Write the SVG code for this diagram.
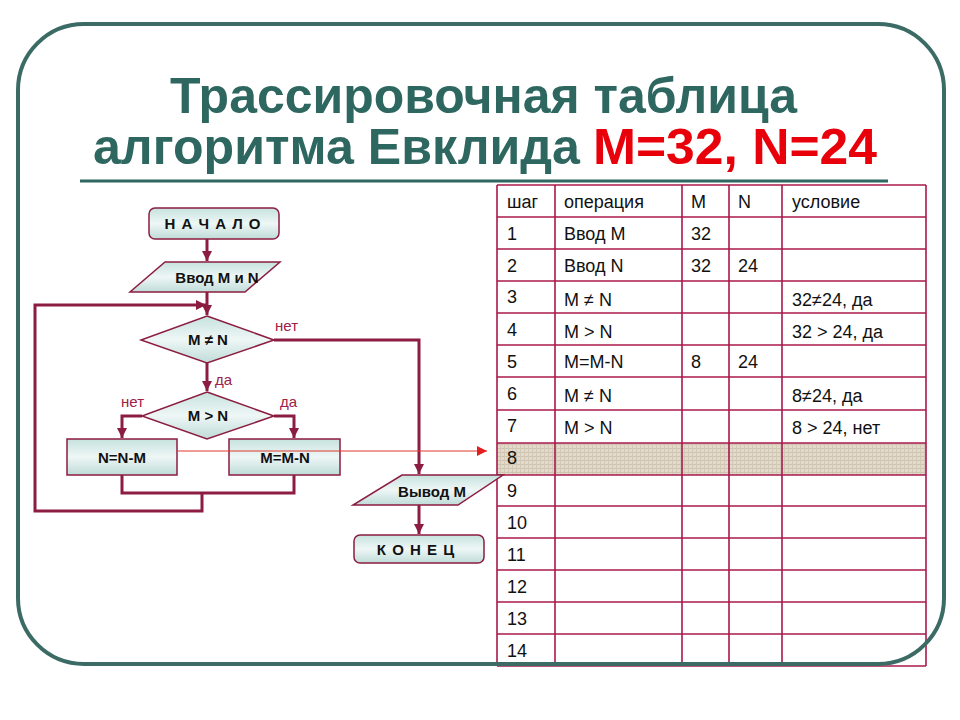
<svg xmlns="http://www.w3.org/2000/svg" width="960" height="720" viewBox="0 0 960 720">
<style>
.title{font-family:"Liberation Sans",Arial,sans-serif;font-weight:bold;font-size:50px;fill:#2e6660}
.red{fill:#e8000b}
.cell{font-family:"Liberation Sans",Arial,sans-serif;font-size:18px;fill:#111}
.nt{font-family:"Liberation Sans",Arial,sans-serif;font-weight:bold;font-size:15px;fill:#111;text-anchor:middle}
.lbl{font-family:"Liberation Sans",Arial,sans-serif;font-size:15px;fill:#9e2048}
.shape{fill:url(#g);stroke:#8c1c40;stroke-width:1.5}
.conn{fill:none;stroke:#8c1c40;stroke-width:3}
.grid{stroke:#a8184c;stroke-width:1.6}
</style>
<defs>
<linearGradient id="g" x1="0" y1="0" x2="0" y2="1">
<stop offset="0" stop-color="#c6e2de"/>
<stop offset="0.5" stop-color="#eef7f6"/>
<stop offset="1" stop-color="#bfdcd8"/>
</linearGradient>
<pattern id="tex" width="4" height="4" patternUnits="userSpaceOnUse">
<rect width="4" height="4" fill="#e2dacb"/>
<rect width="4" height="1" fill="#cfc4b0"/>
<rect width="1" height="4" fill="#d4c9b6"/>
</pattern>
<marker id="ah" viewBox="0 0 10 10" refX="10" refY="5" markerWidth="3.6" markerHeight="3.4" orient="auto" markerUnits="strokeWidth">
<path d="M0,0 L10,5 L0,10 z" fill="#8c1c40"/>
</marker>
<marker id="rh" viewBox="0 0 10 10" refX="10" refY="5" markerWidth="12" markerHeight="10" orient="auto" markerUnits="userSpaceOnUse">
<path d="M0,0 L10,5 L0,10 z" fill="#e02020"/>
</marker>
</defs>
<rect width="960" height="720" fill="#fff"/>

<g id="title">
<text class="title" x="170" y="113" textLength="627" lengthAdjust="spacingAndGlyphs">Трассировочная таблица</text>
<text class="title" x="93" y="164" textLength="487" lengthAdjust="spacingAndGlyphs">алгоритма Евклида</text>
<text class="title red" x="593" y="164" textLength="284" lengthAdjust="spacingAndGlyphs">M=32, N=24</text>
<line x1="80" y1="181" x2="888" y2="181" stroke="#2e6660" stroke-width="3"/>
</g>

<g id="table">
<rect x="497" y="443" width="429" height="32" fill="url(#tex)"/>
<g class="grid">
<line x1="497" y1="185" x2="926" y2="185"/>
<line x1="497" y1="217" x2="926" y2="217"/>
<line x1="497" y1="249" x2="926" y2="249"/>
<line x1="497" y1="281" x2="926" y2="281"/>
<line x1="497" y1="313" x2="926" y2="313"/>
<line x1="497" y1="345" x2="926" y2="345"/>
<line x1="497" y1="377" x2="926" y2="377"/>
<line x1="497" y1="410" x2="926" y2="410"/>
<line x1="497" y1="443" x2="926" y2="443"/>
<line x1="497" y1="475" x2="926" y2="475"/>
<line x1="497" y1="506" x2="926" y2="506"/>
<line x1="497" y1="538" x2="926" y2="538"/>
<line x1="497" y1="570" x2="926" y2="570"/>
<line x1="497" y1="602" x2="926" y2="602"/>
<line x1="497" y1="634" x2="926" y2="634"/>
<line x1="497" y1="666" x2="926" y2="666"/>
<line x1="497" y1="185" x2="497" y2="666"/>
<line x1="555" y1="185" x2="555" y2="666"/>
<line x1="682" y1="185" x2="682" y2="666"/>
<line x1="729" y1="185" x2="729" y2="666"/>
<line x1="782" y1="185" x2="782" y2="666"/>
<line x1="926" y1="185" x2="926" y2="666"/>
</g>
<g class="cell">
<text x="507" y="208">шаг</text><text x="564" y="208">операция</text><text x="691" y="208">M</text><text x="738" y="208">N</text><text x="792" y="208">условие</text>
<text x="507" y="240">1</text><text x="564" y="240">Ввод M</text><text x="691" y="240">32</text>
<text x="507" y="272">2</text><text x="564" y="272">Ввод N</text><text x="691" y="272">32</text><text x="738" y="272">24</text>
<text x="507" y="303">3</text><text x="564" y="306">M ≠ N</text><text x="792" y="306">32≠24, да</text>
<text x="507" y="336">4</text><text x="564" y="338">M &gt; N</text><text x="792" y="338">32 &gt; 24, да</text>
<text x="507" y="368">5</text><text x="564" y="368">M=M-N</text><text x="691" y="368">8</text><text x="738" y="368">24</text>
<text x="507" y="400">6</text><text x="564" y="402">M ≠ N</text><text x="792" y="402">8≠24, да</text>
<text x="507" y="432">7</text><text x="564" y="434">M &gt; N</text><text x="792" y="434">8 &gt; 24, нет</text>
<text x="507" y="464">8</text>
<text x="507" y="497">9</text>
<text x="507" y="529">10</text>
<text x="507" y="561">11</text>
<text x="507" y="593">12</text>
<text x="507" y="625">13</text>
<text x="507" y="657">14</text>
</g>
</g>

<g id="connectors">
<line class="conn" x1="207" y1="239" x2="207" y2="261" marker-end="url(#ah)"/>
<line class="conn" x1="207" y1="292" x2="207" y2="315" marker-end="url(#ah)"/>
<polyline class="conn" points="202,493 202,511 35,511 35,305 206,305" marker-end="url(#ah)"/>
<line class="conn" x1="207" y1="363" x2="207" y2="391" marker-end="url(#ah)"/>
<polyline class="conn" points="142,416 122,416 122,438" marker-end="url(#ah)"/>
<polyline class="conn" points="274,416 294,416 294,438" marker-end="url(#ah)"/>
<polyline class="conn" points="122,475 122,493 294,493 294,475"/>
<polyline class="conn" points="274,340 419,340 419,474" marker-end="url(#ah)"/>
<line class="conn" x1="419" y1="505" x2="419" y2="534" marker-end="url(#ah)"/>
<text class="lbl" x="275" y="331">нет</text>
<text class="lbl" x="215" y="385">да</text>
<text class="lbl" x="121" y="407">нет</text>
<text class="lbl" x="280" y="407">да</text>
</g>

<g id="start">
<rect class="shape" x="149" y="208" width="130" height="31" rx="6"/>
<text class="nt" x="213" y="229" letter-spacing="1">Н А Ч А Л О</text>
</g>
<g id="input">
<polygon class="shape" points="165,262 280,262 245,292 130,292"/>
<text class="nt" x="217" y="283">Ввод M и N</text>
</g>
<g id="cond1">
<polygon class="shape" points="207,316 274,340 207,363 141,340"/>
<text class="nt" x="208" y="345">M ≠ N</text>
</g>
<g id="cond2">
<polygon class="shape" points="207,392 274,416 207,439 142,416"/>
<text class="nt" x="208" y="421">M &gt; N</text>
</g>
<g id="nsub">
<rect class="shape" x="67" y="439" width="110" height="36"/>
<text class="nt" x="122" y="463">N=N-M</text>
</g>
<g id="msub">
<rect class="shape" x="229" y="439" width="111" height="36"/>
<text class="nt" x="285" y="463">M=M-N</text>
</g>
<g id="output">
<polygon class="shape" points="402,475 503,475 458,505 353,505"/>
<text class="nt" x="432" y="497">Вывод M</text>
</g>
<g id="end">
<rect class="shape" x="354" y="535" width="130" height="28" rx="6"/>
<text class="nt" x="416" y="555" letter-spacing="1">К О Н Е Ц</text>
</g>

<g id="pointer">
<line x1="177" y1="451" x2="487" y2="451" stroke="#e03a2a" stroke-width="1.2" marker-end="url(#rh)"/>
</g>

<rect id="frame" x="18" y="24" width="926" height="640" rx="66" fill="none" stroke="#3b6b64" stroke-width="4"/>
</svg>
